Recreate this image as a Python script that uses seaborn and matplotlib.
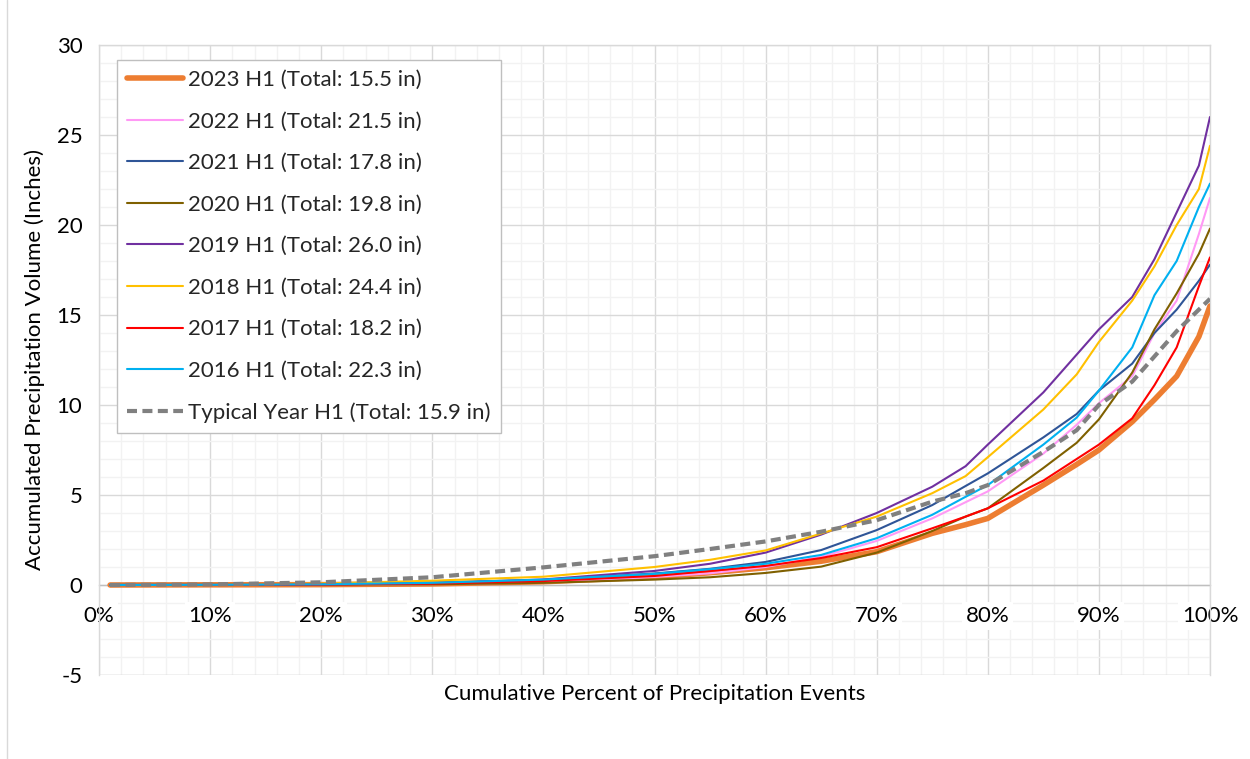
import matplotlib
matplotlib.use("Agg")
import matplotlib.pyplot as plt
import seaborn as sns
import pandas as pd
from matplotlib.ticker import MultipleLocator, NullFormatter
from matplotlib.lines import Line2D
from matplotlib.transforms import offset_copy

# ---------------- data ----------------
pct = [1, 10, 20, 30, 40, 50, 55, 60, 65, 70, 75, 78, 80, 85, 88, 90, 93, 95, 97, 99, 100]

y2023 = [0, 0.01, 0.02, 0.06, 0.18, 0.45, 0.68, 0.96, 1.32, 1.85, 2.87, 3.35, 3.7, 5.55, 6.7, 7.5, 9.07, 10.3, 11.6, 13.8, 15.5]
y2022 = [0, 0.01, 0.02, 0.05, 0.15, 0.45, 0.65, 1.0, 1.57, 2.45, 3.7, 4.6, 5.2, 7.3, 8.9, 10.1, 11.6, 14.0, 15.8, 19.5, 21.5]
y2021 = [0, 0.01, 0.03, 0.1, 0.28, 0.64, 0.9, 1.28, 1.94, 3.05, 4.44, 5.5, 6.2, 8.2, 9.5, 10.8, 12.3, 14.0, 15.3, 16.9, 17.8]
y2020 = [0, 0.01, 0.02, 0.04, 0.12, 0.3, 0.43, 0.67, 1.02, 1.8, 3.0, 3.8, 4.26, 6.5, 7.9, 9.2, 11.8, 14.2, 16.2, 18.4, 19.8]
y2019 = [0, 0.01, 0.03, 0.1, 0.31, 0.78, 1.18, 1.8, 2.8, 4.0, 5.46, 6.6, 7.8, 10.7, 12.8, 14.2, 16.0, 18.1, 20.7, 23.3, 26.0]
y2018 = [0, 0.02, 0.08, 0.24, 0.46, 1.0, 1.4, 1.92, 2.86, 3.8, 5.1, 6.05, 7.1, 9.75, 11.7, 13.5, 15.8, 17.7, 20.0, 22.0, 24.4]
y2017 = [0, 0.01, 0.03, 0.08, 0.22, 0.5, 0.78, 1.06, 1.5, 2.1, 3.15, 3.8, 4.26, 5.8, 7.0, 7.8, 9.26, 11.1, 13.2, 16.6, 18.2]
y2016 = [0, 0.01, 0.04, 0.12, 0.3, 0.62, 0.88, 1.18, 1.67, 2.6, 3.9, 4.9, 5.55, 7.8, 9.3, 10.8, 13.2, 16.1, 18.0, 21.0, 22.3]
ytyp = [0, 0.03, 0.15, 0.43, 0.98, 1.6, 2.0, 2.42, 2.96, 3.6, 4.63, 5.1, 5.55, 7.4, 8.6, 10.0, 11.3, 12.7, 14.1, 15.3, 15.9]

labels = ["2023 H1 (Total: 15.5 in)", "2022 H1 (Total: 21.5 in)", "2021 H1 (Total: 17.8 in)",
          "2020 H1 (Total: 19.8 in)", "2019 H1 (Total: 26.0 in)", "2018 H1 (Total: 24.4 in)",
          "2017 H1 (Total: 18.2 in)", "2016 H1 (Total: 22.3 in)", "Typical Year H1 (Total: 15.9 in)"]
series = [y2023, y2022, y2021, y2020, y2019, y2018, y2017, y2016, ytyp]
colors = ["#ED7D31", "#FF99F5", "#2F5597", "#7F6000", "#7030A0", "#FFC000", "#FF0000", "#00B0F0", "#808080"]
widths = [4.0, 1.5, 1.5, 1.5, 1.5, 1.5, 1.5, 1.5, 3.0]

x_ticks = list(range(0, 101, 10))
x_tick_labels = [f"{v}%" for v in x_ticks]
y_ticks = list(range(-5, 31, 5))

# ---------------- plot ----------------
sns.set_theme(style="white")
plt.rcParams['font.family'] = ['Lato', 'DejaVu Sans']
plt.rcParams['axes.unicode_minus'] = False
FS = 16

fig = plt.figure(figsize=(12.5, 7.59), dpi=100)
ax = fig.add_axes([99/1250, 1 - 675/759, 1111/1250, 630/759])

for i, (yv, lab, c, w) in enumerate(zip(series, labels, colors, widths)):
    df = pd.DataFrame({"pct": pct, "val": yv})
    ls = (0, (2.4, 1.3)) if lab.startswith("Typical") else "-"
    sns.lineplot(data=df, x="pct", y="val", ax=ax, color=c, linewidth=w,
                 linestyle=ls, label=lab, zorder=3 + i, solid_capstyle="round",
                 solid_joinstyle="round", dash_capstyle="butt")

ax.set_xlim(0, 100)
ax.set_ylim(-5, 30)
ax.set_xticks(x_ticks)
ax.set_yticks(y_ticks)
ax.xaxis.set_minor_locator(MultipleLocator(2))
ax.yaxis.set_minor_locator(MultipleLocator(1))
ax.xaxis.set_major_formatter(NullFormatter())
ax.grid(which="minor", color="#F2F2F2", linewidth=1.0, zorder=0)
ax.grid(which="major", color="#D9D9D9", linewidth=1.0, zorder=1)
ax.set_axisbelow(True)

for s in ["top", "right", "left"]:
    ax.spines[s].set_color("#D9D9D9")
    ax.spines[s].set_linewidth(1.0)
ax.spines["bottom"].set_position(("data", 0))
ax.spines["bottom"].set_color("#BFBFBF")
ax.spines["bottom"].set_linewidth(1.0)
ax.spines["bottom"].set_zorder(2)
ax.axhline(-5, color="#D9D9D9", linewidth=1.0, zorder=1)

ax.tick_params(axis="both", which="both", length=0)
ax.tick_params(axis="y", pad=12, labelsize=FS, colors="#000000")

# x tick labels below the zero line, on white boxes (gridlines hidden behind)
lab_tr = offset_copy(ax.transData, fig=fig, y=-31, units="dots")
for xv, txt in zip(x_ticks, x_tick_labels):
    ax.text(xv, 0, txt, transform=lab_tr, ha="center", va="center", fontsize=FS,
            color="#000000", zorder=2.5, clip_on=False,
            bbox=dict(facecolor="white", edgecolor="none", pad=2.5))

ax.set_xlabel("Cumulative Percent of Precipitation Events", fontsize=FS, color="#000000")
ax.xaxis.set_label_coords(0.5, -0.014)
ax.xaxis.label.set_va("top")
ax.set_ylabel("Accumulated Precipitation Volume (Inches)", fontsize=FS, color="#000000")
ax.yaxis.set_label_coords(-0.049, 0.5)

leg = ax.legend(loc="upper left", bbox_to_anchor=(18/1111, 1 - 15/630), borderaxespad=0,
                fontsize=FS, frameon=True, fancybox=False, framealpha=1,
                edgecolor="#BFBFBF", handlelength=2.5, handletextpad=0.25,
                labelspacing=0.97, borderpad=0.45)
leg.get_frame().set_linewidth(1.0)
leg.set_zorder(20)

fig.add_artist(Line2D([7/1250, 7/1250], [0, 1], color="#D9D9D9", linewidth=1.0))

fig.savefig("out.png", dpi=100, facecolor="white")
